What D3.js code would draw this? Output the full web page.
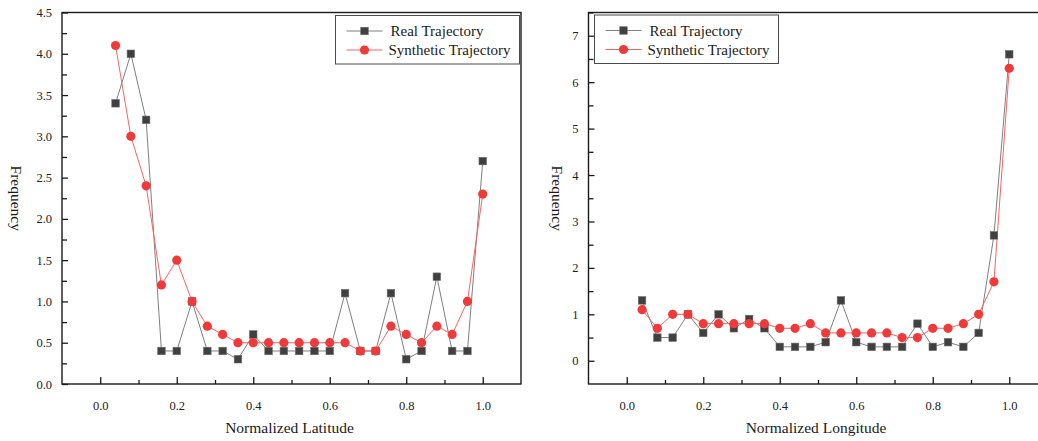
<!DOCTYPE html>
<html>
<head>
<meta charset="utf-8">
<script src="https://cdn.jsdelivr.net/npm/d3@7"></script>
<style>
  body { margin: 0; background: #fff; }
  svg { display: block; }
  text { font-family: "Liberation Serif", "Times New Roman", serif; }
</style>
</head>
<body>
<div id="chart"></div>
<script>
// bins (normalized coordinate)
const bins = [0.04, 0.08, 0.12, 0.16, 0.20, 0.24, 0.28, 0.32, 0.36, 0.40, 0.44, 0.48, 0.52,
  0.56, 0.60, 0.64, 0.68, 0.72, 0.76, 0.80, 0.84, 0.88, 0.92, 0.96, 1.00];

const latReal = [3.4, 4.0, 3.2, 0.4, 0.4, 1.0, 0.4, 0.4, 0.3, 0.6, 0.4, 0.4, 0.4,
  0.4, 0.4, 1.1, 0.4, 0.4, 1.1, 0.3, 0.4, 1.3, 0.4, 0.4, 2.7];
const latSynth = [4.1, 3.0, 2.4, 1.2, 1.5, 1.0, 0.7, 0.6, 0.5, 0.5, 0.5, 0.5, 0.5,
  0.5, 0.5, 0.5, 0.4, 0.4, 0.7, 0.6, 0.5, 0.7, 0.6, 1.0, 2.3];

const lonReal = [1.3, 0.5, 0.5, 1.0, 0.6, 1.0, 0.7, 0.9, 0.7, 0.3, 0.3, 0.3, 0.4,
  1.3, 0.4, 0.3, 0.3, 0.3, 0.8, 0.3, 0.4, 0.3, 0.6, 2.7, 6.6];
const lonSynth = [1.1, 0.7, 1.0, 1.0, 0.8, 0.8, 0.8, 0.8, 0.8, 0.7, 0.7, 0.8, 0.6,
  0.6, 0.6, 0.6, 0.6, 0.5, 0.5, 0.7, 0.7, 0.8, 1.0, 1.7, 6.3];

const xMajor = [0.0, 0.2, 0.4, 0.6, 0.8, 1.0];
const xMinor = [0.1, 0.3, 0.5, 0.7, 0.9];
const latYMajor = [0.0, 0.5, 1.0, 1.5, 2.0, 2.5, 3.0, 3.5, 4.0, 4.5];
const latYMinor = [0.25, 0.75, 1.25, 1.75, 2.25, 2.75, 3.25, 3.75, 4.25];
const lonYMajor = [0, 1, 2, 3, 4, 5, 6, 7];
const lonYMinor = [0.5, 1.5, 2.5, 3.5, 4.5, 5.5, 6.5, 7.5];

const seriesNames = ["Real Trajectory", "Synthetic Trajectory"];

const W = 1038, H = 441;
const FONTE = "'Liberation Serif', 'Times New Roman', serif";
const svg = d3.select("#chart").append("svg").attr("width", W).attr("height", H);

const cor = { real: "#7f7f7f", realMark: "#404040", synth: "#ff6161", synthMark: "#f03a3a", eixo: "#1a1a1a" };

function desenharPainel(cfg) {
  const x = d3.scaleLinear().domain([-0.1, 1.1]).range([cfg.left, cfg.left + 459]);
  const y = d3.scaleLinear().domain(cfg.yDomain).range([384, 12.5]);
  const g = svg.append("g");

  // moldura
  g.append("rect")
    .attr("x", x(-0.1)).attr("y", y(cfg.yDomain[1]))
    .attr("width", x(1.1) - x(-0.1)).attr("height", y(cfg.yDomain[0]) - y(cfg.yDomain[1]))
    .attr("fill", "none").attr("stroke", cor.eixo).attr("stroke-width", 1.4);

  // eixo x (ticks para dentro)
  const ax = g.append("g").attr("transform", `translate(0,${y(cfg.yDomain[0])})`)
    .call(d3.axisBottom(x).tickValues(xMajor).tickSize(-7).tickPadding(17).tickFormat(d3.format(".1f")));
  ax.select(".domain").remove();
  g.append("g").attr("transform", `translate(0,${y(cfg.yDomain[0])})`)
    .call(d3.axisBottom(x).tickValues(xMinor).tickSize(-4).tickFormat(""))
    .select(".domain").remove();

  // eixo y
  const ay = g.append("g").attr("transform", `translate(${x(-0.1)},0)`)
    .call(d3.axisLeft(y).tickValues(cfg.yMajor).tickSize(-6).tickPadding(10).tickFormat(cfg.yFormat));
  ay.select(".domain").remove();
  g.append("g").attr("transform", `translate(${x(-0.1)},0)`)
    .call(d3.axisLeft(y).tickValues(cfg.yMinor).tickSize(-5).tickFormat(""))
    .select(".domain").remove();

  g.selectAll("g").attr("font-family", FONTE);
  g.selectAll(".tick line").attr("stroke", cor.eixo).attr("stroke-width", 1.3);
  g.selectAll(".tick text").attr("fill", "#222").attr("font-size", 12.5).attr("font-family", FONTE);

  // títulos dos eixos
  g.append("text")
    .attr("x", (x(-0.1) + x(1.1)) / 2 - 2).attr("y", 433)
    .attr("text-anchor", "middle").attr("fill", "#1a1a1a")
    .attr("font-family", FONTE).attr("font-size", 15.5)
    .text(cfg.xTitle);
  g.append("text")
    .attr("transform", `translate(${cfg.yTitleX},${(y(cfg.yDomain[0]) + y(cfg.yDomain[1])) / 2}) rotate(90)`)
    .attr("text-anchor", "middle").attr("fill", "#1a1a1a")
    .attr("font-family", FONTE).attr("font-size", 15.5)
    .text("Frequency");

  // linhas
  const linha = d3.line().x((d, i) => x(bins[i])).y(d => y(d));
  g.append("path").datum(cfg.real).attr("d", linha)
    .attr("fill", "none").attr("stroke", cor.real).attr("stroke-width", 1);
  g.append("path").datum(cfg.synth).attr("d", linha)
    .attr("fill", "none").attr("stroke", cor.synth).attr("stroke-width", 1);

  // marcadores
  const s = 7.5;
  g.append("g").selectAll("rect")
    .data(cfg.real).join("rect")
    .attr("x", (d, i) => x(bins[i]) - s / 2)
    .attr("y", d => y(d) - s / 2)
    .attr("width", s).attr("height", s)
    .attr("fill", cor.realMark).attr("stroke", "#6a6a6a").attr("stroke-width", 0.6);
  g.append("g").selectAll("circle")
    .data(cfg.synth).join("circle")
    .attr("cx", (d, i) => x(bins[i]))
    .attr("cy", d => y(d))
    .attr("r", 4.6)
    .attr("fill", cor.synthMark);

  // legenda
  const lg = g.append("g").attr("transform", `translate(${cfg.legX},${cfg.legY})`);
  lg.append("rect").attr("width", 184).attr("height", 48.5)
    .attr("fill", "#fff").attr("stroke", "#4a4a4a").attr("stroke-width", 1);
  seriesNames.forEach((nome, i) => {
    const yy = 15.5 + i * 19;
    lg.append("line").attr("x1", 11).attr("x2", 47).attr("y1", yy).attr("y2", yy)
      .attr("stroke", i === 0 ? cor.real : cor.synth).attr("stroke-width", 1);
    if (i === 0) {
      lg.append("rect").attr("x", 29 - s / 2).attr("y", yy - s / 2).attr("width", s).attr("height", s)
        .attr("fill", cor.realMark).attr("stroke", "#6a6a6a").attr("stroke-width", 0.6);
    } else {
      lg.append("circle").attr("cx", 29).attr("cy", yy).attr("r", 4.6).attr("fill", cor.synthMark);
    }
    lg.append("text").attr("x", i === 0 ? 55 : 53).attr("y", yy + 5)
      .attr("fill", "#1a1a1a").attr("font-family", FONTE).attr("font-size", 15).text(nome);
  });
}

desenharPainel({
  left: 62, yDomain: [0, 4.5], yMajor: latYMajor, yMinor: latYMinor, yFormat: d3.format(".1f"),
  real: latReal, synth: latSynth, xTitle: "Normalized Latitude", yTitleX: 11,
  legX: 335.5, legY: 15.5
});

desenharPainel({
  left: 588.5, yDomain: [-0.5, 7.5], yMajor: lonYMajor, yMinor: lonYMinor, yFormat: d3.format("d"),
  real: lonReal, synth: lonSynth, xTitle: "Normalized Longitude", yTitleX: 552,
  legX: 594.5, legY: 15
});
</script>
</body>
</html>
